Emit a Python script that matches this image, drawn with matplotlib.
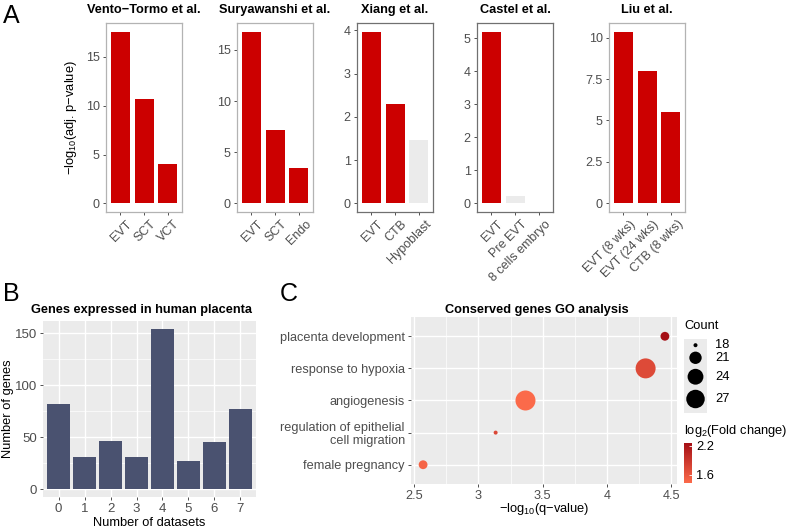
import matplotlib
matplotlib.use('Agg')
import matplotlib.pyplot as plt
import matplotlib.transforms as mtrans
import numpy as np
from matplotlib.colors import LinearSegmentedColormap, Normalize
from matplotlib.ticker import MultipleLocator, FuncFormatter
from matplotlib.colorbar import ColorbarBase

plt.rcParams['font.family'] = ['Liberation Sans', 'DejaVu Sans']
plt.rcParams['mathtext.fontset'] = 'custom'
plt.rcParams['mathtext.rm'] = 'Liberation Sans'

# ---- data ----
studies = ['Vento\u2212Tormo et al.', 'Suryawanshi et al.', 'Xiang et al.',
           'Castel et al.', 'Liu et al.']
cells = [['EVT', 'SCT', 'VCT'],
         ['EVT', 'SCT', 'Endo'],
         ['EVT', 'CTB', 'Hypoblast'],
         ['EVT', 'Pre EVT', '8 cells embryo'],
         ['EVT (8 wks)', 'EVT (24 wks)', 'CTB (8 wks)']]
enrich = [[17.6, 10.7, 4.07],
          [16.8, 7.2, 3.5],
          [3.97, 2.3, 1.47],
          [5.2, 0.21, 0.0],
          [10.36, 7.96, 5.52]]
signif = [[1, 1, 1], [1, 1, 1], [1, 1, 0], [1, 0, 0], [1, 1, 1]]
ystep = [5, 5, 1, 1, 2.5]

n_datasets = [0, 1, 2, 3, 4, 5, 6, 7]
n_genes = [82, 31, 46, 31, 154, 27, 45, 77]

go_terms = ['female pregnancy', 'regulation of epithelial\ncell migration',
            'angiogenesis', 'response to hypoxia', 'placenta development']
go_q = [2.57, 3.134, 3.366, 4.30, 4.45]
go_count = [19, 18, 29, 29, 19]
go_fc = [1.49, 1.75, 1.43, 1.72, 2.26]
count_breaks = [18, 21, 24, 27]
fc_breaks = [1.6, 2.2]

W, H = 787, 529
fig = plt.figure(figsize=(W / 100, H / 100), dpi=100)


def px(x0, y0, x1, y1):
    return [x0 / W, 1 - y1 / H, (x1 - x0) / W, (y1 - y0) / H]


tick_grey = '#4D4D4D'
red = '#CC0000'
light = '#EBEBEB'
fs_tick = 9
fs_lab = 9.3
fs_title = 9.2

# ---- panel A ----
lefts = [106, 237, 357, 477, 609]
frames = ['#B3B3B3', '#B3B3B3', '#707070', '#707070', '#B3B3B3']
shift = mtrans.ScaledTranslation(6 / 100, 0, fig.dpi_scale_trans)
for i, name in enumerate(studies):
    ax = fig.add_axes(px(lefts[i], 23, lefts[i] + 76, 212))
    x = np.arange(len(cells[i]))
    cols = [red if s else light for s in signif[i]]
    ax.bar(x, enrich[i], width=0.8, color=cols)
    top = max(enrich[i])
    ax.set_ylim(-0.05 * top, 1.05 * top)
    ax.set_xlim(-0.6, len(cells[i]) - 0.4)
    ax.yaxis.set_major_locator(MultipleLocator(ystep[i]))
    ax.yaxis.set_major_formatter(FuncFormatter(lambda v, p: '%g' % v))
    ax.set_xticks(x)
    ax.set_xticklabels(cells[i], rotation=45, ha='right',
                       rotation_mode='anchor')
    ax.tick_params(labelsize=fs_tick, labelcolor=tick_grey, color='#333333',
                   length=2.5, width=0.6, pad=2)
    for lab in ax.xaxis.get_majorticklabels():
        lab.set_transform(lab.get_transform() + shift)
    for sp in ax.spines.values():
        sp.set_color(frames[i])
        sp.set_linewidth(0.9)
    ax.set_title(name, fontsize=fs_title, fontweight='bold', pad=7)
    if i == 0:
        ax.set_ylabel('\u2212log$_{10}$(adj. p\u2212value)', fontsize=fs_lab,
                      labelpad=5)

fig.text(3 / W, 1 - 23 / H, 'A', fontsize=18)
fig.text(3 / W, 1 - 301 / H, 'B', fontsize=18)
fig.text(280 / W, 1 - 301 / H, 'C', fontsize=18)

# ---- panel B ----
axb = fig.add_axes(px(43, 321, 256, 497))
axb.set_facecolor(light)
axb.bar(n_datasets, n_genes, width=0.9, color='#4A5270', zorder=2)
axb.set_xlim(-0.6, len(n_datasets) - 0.4)
axb.set_ylim(-0.05 * max(n_genes), 1.05 * max(n_genes))
axb.set_xticks(n_datasets)
axb.yaxis.set_major_locator(MultipleLocator(50))
axb.yaxis.set_minor_locator(MultipleLocator(25))
axb.grid(which='major', color='white', lw=1.0, zorder=0)
axb.grid(which='minor', axis='y', color='white', lw=0.5, zorder=0)
axb.set_axisbelow(True)
for sp in axb.spines.values():
    sp.set_visible(False)
axb.tick_params(which='major', labelsize=fs_tick + 0.5, labelcolor=tick_grey,
                color='#333333', length=2.5, width=0.6, pad=2)
axb.tick_params(which='minor', length=0)
axb.set_xlabel('Number of datasets', fontsize=fs_lab, labelpad=1)
axb.set_ylabel('Number of genes', fontsize=fs_lab)
axb.yaxis.set_label_coords(-29 / 213, 0.5)
axb.set_title('Genes expressed in human placenta', fontsize=fs_title,
              fontweight='bold', pad=6, x=0.463)

# ---- panel C ----
cmap = LinearSegmentedColormap.from_list('fc', ['#FB6A4A', '#A50F15'])
norm = Normalize(vmin=min(go_fc), vmax=max(go_fc))


def diam(c):
    lo, hi = min(go_count), max(go_count)
    d_px = 4 + 16 * np.sqrt((np.asarray(c, float) - lo) / (hi - lo))
    return (d_px * 0.72) ** 2


axc = fig.add_axes(px(411, 317, 677, 484))
axc.set_facecolor(light)
ypos = np.arange(len(go_terms))
axc.scatter(go_q, ypos, s=diam(go_count), c=go_fc, cmap=cmap, norm=norm,
            linewidths=0, zorder=3)
span = max(go_q) - min(go_q)
axc.set_xlim(min(go_q) - 0.05 * span, max(go_q) + 0.05 * span)
axc.set_ylim(-0.6, len(go_terms) - 0.4)
axc.set_yticks(ypos)
axc.set_yticklabels(go_terms, ha='right', linespacing=1.05)
axc.set_xticks([2.5, 3, 3.5, 4, 4.5])
axc.set_xticklabels(['2.5', '3', '3.5', '4', '4.5'])
axc.xaxis.set_minor_locator(MultipleLocator(0.25))
axc.grid(which='major', color='white', lw=1.0, zorder=0)
axc.grid(which='minor', axis='x', color='white', lw=0.5, zorder=0)
axc.set_axisbelow(True)
for sp in axc.spines.values():
    sp.set_visible(False)
axc.tick_params(which='major', labelsize=fs_tick + 0.2, labelcolor=tick_grey,
                color='#333333', length=2.5, width=0.6, pad=2)
axc.tick_params(which='minor', length=0)
axc.set_xlabel('\u2212log$_{10}$(q\u2212value)', fontsize=fs_lab, labelpad=-1)
axc.set_title('Conserved genes GO analysis', fontsize=fs_title,
              fontweight='bold', pad=3, x=0.4725)

# size legend
fig.text(684 / W, 1 - 326 / H, 'Count', fontsize=fs_lab, va='center')
axl = fig.add_axes(px(684, 339, 707, 413))
axl.set_facecolor(light)
d_keys = 4 + 16 * np.sqrt((np.array(count_breaks, float) - min(go_count))
                          / (max(go_count) - min(go_count)))
hk = d_keys + 3.5
centers = np.cumsum(hk) - hk / 2
axl.scatter(np.full(len(count_breaks), 0.5), centers, s=diam(count_breaks),
            color='black', linewidths=0)
axl.set_xlim(0, 1)
axl.set_ylim(hk.sum() + 2, -2)
axl.set_xticks([])
axl.set_yticks([])
for sp in axl.spines.values():
    sp.set_visible(False)
for c, yc in zip(count_breaks, centers):
    axl.text(1.35, yc, str(c), fontsize=fs_lab, va='center', ha='left',
             transform=axl.get_yaxis_transform())

# colour legend
fig.text(684 / W, 1 - 431 / H, 'log$_2$(Fold change)', fontsize=fs_lab,
         va='center')
axcb = fig.add_axes(px(684, 443, 692, 483))
cb = ColorbarBase(axcb, cmap=cmap, norm=norm, orientation='vertical',
                  ticks=fc_breaks)
cb.outline.set_visible(False)
cb.ax.tick_params(labelsize=fs_lab, length=2, color='white', width=0.6,
                  direction='in', pad=3)
cb.ax.set_yticklabels(['%g' % v for v in fc_breaks])

fig.savefig('out.png', dpi=100)
